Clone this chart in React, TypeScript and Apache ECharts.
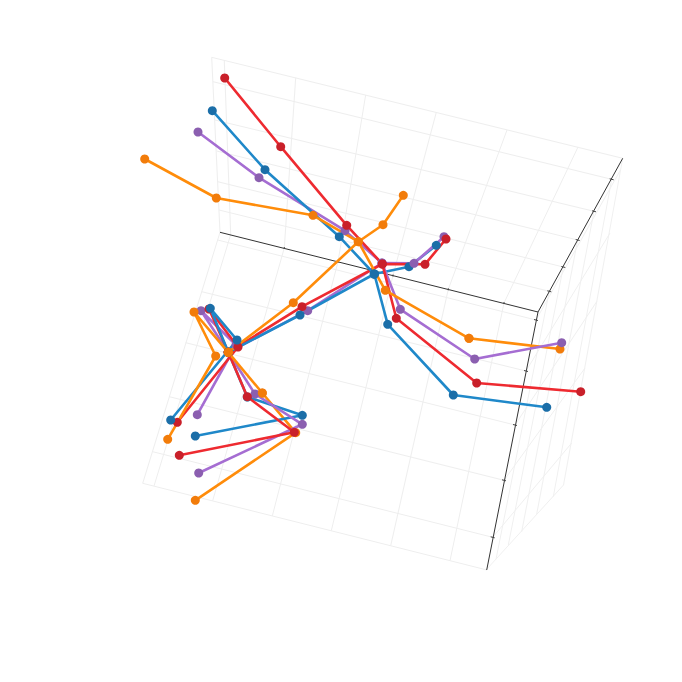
import React, { useEffect, useRef } from "react";
import * as echarts from "echarts";

type P = [number, number];

const RED_LINE = "#ee2a30", RED_DOT = "#c9202a";
const BLUE_LINE = "#1f88c9", BLUE_DOT = "#1b6ea8";
const PURPLE_LINE = "#a56dd2", PURPLE_DOT = "#8b5fb0";
const ORANGE_LINE = "#ff8c0a", ORANGE_DOT = "#f27c0a";

// Traces
const orangeLowerLeg: P[] = [[262.3, 393], [295.7, 432.7], [195.3, 500.3]];
const orangeUpperLeg: P[] = [[228.3, 352.3], [262.3, 393]];
const orangeFoot: P[] = [[469, 338.3], [560, 349]];
const orangeLimbA: P[] = [[144.7, 159], [216.3, 198], [313, 215.3], [358.3, 241.7], [385.3, 290.3], [469, 338.3]];
const orangeSpine: P[] = [[403.3, 195.3], [383, 224.7], [358.3, 241.7], [293.3, 302.7], [228.3, 352.3]];
const orangeLimbC: P[] = [[228.3, 352.3], [194, 312], [215.7, 356], [167.7, 439.3]];

const blueLeg: P[] = [[228.3, 352.3], [247.3, 397], [302.3, 415.3], [195.3, 436]];
const blueHand: P[] = [[436.3, 245.3], [409, 266.7], [374.3, 274]];
const blueSpine: P[] = [[374.3, 274], [300, 315], [228.3, 352.3]];
const blueLimbA: P[] = [[212.3, 110.7], [265, 169.7], [339.3, 236.7], [374.3, 274], [387.7, 324.3], [453.3, 395], [546.7, 407.3]];
const blueLimbC: P[] = [[228.3, 352.3], [210.3, 308.3], [237, 340], [170.7, 420]];

const purpleSpine: P[] = [[444, 236.7], [414, 263.3], [382, 263], [307.7, 310.7], [228.3, 352.3]];
const purpleLeg: P[] = [[228.3, 352.3], [255, 394], [302.3, 424.3], [198.7, 473]];
const purpleLimbC: P[] = [[228.3, 352.3], [201, 310.7], [236, 345], [197.3, 414.7]];
const purpleLimbA: P[] = [[198, 132], [259, 177.7], [345, 230.7], [382, 263], [400.3, 309.3], [474.7, 359], [561.7, 342.7]];

const redSpine: P[] = [[446, 239], [425, 264.3], [382.3, 264], [302, 306.7], [228.3, 352.3]];
const redLeg: P[] = [[228.3, 352.3], [247.3, 396.7], [294.3, 432.3], [179.3, 455.3]];
const redLimbC: P[] = [[228.3, 352.3], [209, 309], [238, 347], [177.3, 422.3]];
const redLimbA: P[] = [[224.7, 78], [280.7, 146.7], [346.7, 225.3], [382.3, 264], [396.3, 318.3], [476.7, 383], [580.7, 391.7]];

// Box wireframe corners and grid lines
const wallFrontAcross: P[][] = [
  [[142.7, 483.3], [487, 570]],
  [[152.7, 451.7], [492.7, 537.3]],
  [[169.3, 396.7], [504, 480.3]],
  [[185.7, 342.7], [515, 425]],
  [[201.7, 291.7], [526, 371]],
  [[217.7, 240], [536, 320]],
];
const wallFrontAlong: P[][] = [
  [[142.7, 483.3], [220, 232.3]],
  [[154, 486], [230.7, 234.5]],
  [[212.7, 500.7], [284.3, 248]],
  [[272.3, 516], [338, 261.7]],
  [[331.3, 530.7], [393, 275.5]],
  [[390.7, 545.7], [448.3, 289.3]],
  [[450, 560.7], [504, 303]],
];
const wallTopAcross: P[][] = [
  [[211.7, 57.3], [622.7, 158.3]],
  [[213, 81.7], [611.7, 179.3]],
  [[215, 120], [594, 211.3]],
  [[216.7, 151], [577.7, 240]],
  [[217.7, 181.7], [563.3, 267]],
  [[219, 210], [549.3, 291.3]],
];
const wallTopAlong: P[][] = [
  [[211.7, 57.3], [220, 232.3]],
  [[224.3, 60.7], [230.7, 234.5]],
  [[295.7, 77.7], [284.3, 248]],
  [[365.7, 95], [338, 261.7]],
  [[436.3, 112.3], [393, 275.5]],
  [[507, 130], [448.3, 289.3]],
  [[578, 147], [504, 303]],
];
const wallSideLines: P[][] = [
  [[486.7, 569.3], [563.5, 485]],
  [[492.7, 537.3], [571.7, 443]],
  [[504, 480.3], [585, 368]],
  [[515, 425], [596.7, 301.7]],
  [[526, 371], [610, 233]],
  [[536, 320], [620.5, 170]],
  [[563.5, 485], [622.7, 158.3]],
  [[496, 559.3], [549.3, 291.3]],
  [[508.3, 545], [563.3, 267]],
  [[521.7, 531.7], [577.7, 240]],
  [[536.7, 514], [594, 211.3]],
  [[553.3, 496.7], [611.7, 179.3]],
];
const axisLines: P[][] = [
  [[220, 232.3], [538, 312]],
  [[538, 312], [622.7, 158.3]],
  [[538, 312], [486.7, 570]],
];
const tickMarks: P[][] = [
  [[490.7, 536.8], [494.7, 537.8]],
  [[502, 479.8], [506, 480.8]],
  [[513, 424.5], [517, 425.5]],
  [[524, 370.5], [528, 371.5]],
  [[534, 319.5], [538, 320.5]],
  [[547.3, 290.8], [551.3, 291.8]],
  [[561.3, 266.5], [565.3, 267.5]],
  [[575.7, 239.5], [579.7, 240.5]],
  [[592, 210.8], [596, 211.8]],
  [[609.7, 178.8], [613.7, 179.8]],
  [[284.3, 247], [284.3, 249]],
  [[338, 260.7], [338, 262.7]],
  [[393, 274.5], [393, 276.5]],
  [[448.3, 288.3], [448.3, 290.3]],
  [[504, 302], [504, 304]],
];

const traces: [P[], string, string][] = [
  [orangeLowerLeg, ORANGE_LINE, ORANGE_DOT],
  [orangeFoot, ORANGE_LINE, ORANGE_DOT],
  [blueLeg, BLUE_LINE, BLUE_DOT],
  [blueHand, BLUE_LINE, BLUE_DOT],
  [purpleLeg, PURPLE_LINE, PURPLE_DOT],
  [purpleLimbC, PURPLE_LINE, PURPLE_DOT],
  [purpleSpine, PURPLE_LINE, PURPLE_DOT],
  [purpleLimbA, PURPLE_LINE, PURPLE_DOT],
  [redLeg, RED_LINE, RED_DOT],
  [redLimbC, RED_LINE, RED_DOT],
  [redSpine, RED_LINE, RED_DOT],
  [redLimbA, RED_LINE, RED_DOT],
  [blueSpine, BLUE_LINE, BLUE_DOT],
  [blueLimbC, BLUE_LINE, BLUE_DOT],
  [blueLimbA, BLUE_LINE, BLUE_DOT],
  [orangeSpine, ORANGE_LINE, ORANGE_DOT],
  [orangeLimbA, ORANGE_LINE, ORANGE_DOT],
  [orangeLimbC, ORANGE_LINE, ORANGE_DOT],
  [orangeUpperLeg, ORANGE_LINE, ORANGE_DOT],
];

const wire = (data: P[], color: string, width: number) => ({
  type: "line",
  data,
  symbol: "none",
  silent: true,
  lineStyle: { color, width },
});

export default function App() {
  const ref = useRef<HTMLDivElement>(null);
  useEffect(() => {
    const chart = echarts.init(ref.current!, null, { renderer: "svg" });
    const grids = [
      ...wallFrontAcross, ...wallFrontAlong,
      ...wallTopAcross, ...wallTopAlong,
    ];
    chart.setOption({
      animation: false,
      backgroundColor: "#ffffff",
      grid: { left: 0, right: 0, top: 0, bottom: 0 },
      xAxis: { type: "value", min: 0, max: 682, show: false },
      yAxis: { type: "value", min: 0, max: 682, inverse: true, show: false },
      series: [
        ...grids.map((g) => wire(g, "#eeeeee", 1)),
        ...wallSideLines.map((g) => wire(g, "#f0f0f0", 1)),
        ...axisLines.map((g) => wire(g, "#333333", 1)),
        ...tickMarks.map((g) => wire(g, "#444444", 1)),
        ...traces.map(([data, line, dot]) => ({
          type: "line",
          data,
          symbol: "circle",
          symbolSize: 9,
          showSymbol: true,
          showAllSymbols: true,
          silent: true,
          clip: false,
          lineStyle: { color: line, width: 2.6 },
          itemStyle: { color: dot },
        })),
      ],
    });
    return () => chart.dispose();
  }, []);
  return (
    <div
      ref={ref}
      style={{ position: "absolute", left: 0, top: 0, width: 682, height: 682 }}
    />
  );
}
